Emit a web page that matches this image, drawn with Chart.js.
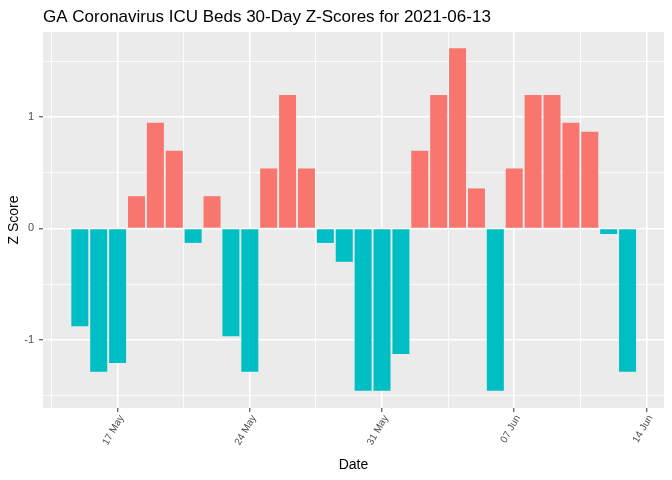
<!DOCTYPE html>
<html>
<head>
<meta charset="utf-8">
<script src="https://cdn.jsdelivr.net/npm/chart.js@4"></script>
<style>
  html, body { margin: 0; padding: 0; background: #ffffff; }
  #wrap { width: 672px; height: 480px; }
</style>
</head>
<body>
<div id="wrap"><canvas id="zScoreChart"></canvas></div>
<script>
const dates = [
    '2021-05-15', '2021-05-16', '2021-05-17', '2021-05-18', '2021-05-19', '2021-05-20',
    '2021-05-21', '2021-05-22', '2021-05-23', '2021-05-24', '2021-05-25', '2021-05-26',
    '2021-05-27', '2021-05-28', '2021-05-29', '2021-05-30', '2021-05-31', '2021-06-01',
    '2021-06-02', '2021-06-03', '2021-06-04', '2021-06-05', '2021-06-06', '2021-06-07',
    '2021-06-08', '2021-06-09', '2021-06-10', '2021-06-11', '2021-06-12', '2021-06-13'
]
const zScores = [
    -0.88, -1.29, -1.21, 0.29, 0.95, 0.70,
    -0.13, 0.29, -0.97, -1.29, 0.54, 1.20,
    0.54, -0.13, -0.30, -1.46, -1.46, -1.13,
    0.70, 1.20, 1.62, 0.36, -1.46, 0.54,
    1.20, 1.20, 0.95, 0.87, -0.05, -1.29
]
const xTickDates = ['2021-05-17', '2021-05-24', '2021-05-31', '2021-06-07', '2021-06-14']
const yTicks = [-1, 0, 1]

const monthNames = ['Jan', 'Feb', 'Mar', 'Apr', 'May', 'Jun', 'Jul', 'Aug', 'Sep', 'Oct', 'Nov', 'Dec']
const dayMs = 86400000
const baseTime = Date.parse(xTickDates[0])
const toDay = d => (Date.parse(d) - baseTime) / dayMs
const majorX = xTickDates.map(toDay)

function dayLabel(v) {
    const d = new Date(baseTime + v * dayMs)
    return String(d.getUTCDate()).padStart(2, '0') + ' ' + monthNames[d.getUTCMonth()]
}

const points = dates.map((d, i) => ({x: toDay(d), y: zScores[i]}))
const barColors = zScores.map(v => v > 0 ? '#F8766D' : '#00BFC4')

// x ticks: majors plus minor lines halfway between
const xTickValues = []
xTickValues.push(majorX[0] - 3.5)
majorX.forEach((v, i) => {
    xTickValues.push(v)
    if (i < majorX.length - 1) xTickValues.push((v + majorX[i + 1]) / 2)
})
const yTickValues = [-1.5, -1, -0.5, 0, 0.5, 1, 1.5]

const isMajorX = v => majorX.includes(v)
const isMajorY = v => yTicks.includes(v)

const panelPlugin = {
    id: 'panel',
    beforeDraw(chart) {
        const {ctx, chartArea} = chart
        ctx.save()
        ctx.fillStyle = '#EBEBEB'
        ctx.fillRect(chartArea.left, chartArea.top, chartArea.right - chartArea.left, chartArea.bottom - chartArea.top)
        ctx.restore()
    },
    afterDraw(chart) {
        const ctx = chart.ctx
        ctx.save()
        ctx.fillStyle = '#000000'
        ctx.font = '17px "Liberation Sans", Arial, sans-serif'
        ctx.textBaseline = 'alphabetic'
        ctx.textAlign = 'left'
        ctx.fillText('GA Coronavirus ICU Beds 30-Day Z-Scores for 2021-06-13', 43, 22)
        ctx.restore()
    }
}

const xTickFont = {family: '"Liberation Sans", Arial, sans-serif', size: 10}
const yTickFont = {family: '"Liberation Sans", Arial, sans-serif', size: 11}
const titleFont = {family: '"Liberation Sans", Arial, sans-serif', size: 14}

new Chart(document.getElementById('zScoreChart').getContext('2d'), {
    type: 'bar',
    data: {
        datasets: [{
            data: points,
            backgroundColor: barColors,
            borderWidth: 0,
            categoryPercentage: 1,
            barPercentage: 0.9
        }]
    },
    options: {
        responsive: true,
        maintainAspectRatio: false,
        animation: false,
        layout: {padding: {top: 32, right: 8, left: 0, bottom: 0}},
        plugins: {
            legend: {display: false},
            tooltip: {enabled: false}
        },
        scales: {
            x: {
                type: 'linear',
                offset: false,
                min: majorX[0] - 3.95,
                max: majorX[majorX.length - 1] + 0.93,
                afterBuildTicks: scale => { scale.ticks = xTickValues.map(v => ({value: v})) },
                afterFit: scale => { scale.height = 72 },
                border: {display: false},
                grid: {
                    offset: false,
                    color: '#FFFFFF',
                    lineWidth: c => c.tick && isMajorX(c.tick.value) ? 1.6 : 0.8,
                    tickColor: c => c.tick && isMajorX(c.tick.value) ? '#333333' : 'rgba(0,0,0,0)',
                    tickLength: 4,
                    tickWidth: 1
                },
                ticks: {
                    autoSkip: false,
                    minRotation: 60,
                    maxRotation: 60,
                    padding: 1,
                    labelOffset: 4,
                    color: '#4D4D4D',
                    font: xTickFont,
                    callback: v => isMajorX(v) ? dayLabel(v) : ''
                },
                title: {
                    display: true,
                    text: 'Date',
                    color: '#000000',
                    font: titleFont,
                    padding: {top: 0, bottom: 6}
                }
            },
            y: {
                min: -1.615,
                max: 1.767,
                afterBuildTicks: scale => { scale.ticks = yTickValues.map(v => ({value: v})) },
                afterFit: scale => { scale.width = 43 },
                border: {display: false},
                grid: {
                    color: '#FFFFFF',
                    lineWidth: c => c.tick && isMajorY(c.tick.value) ? 1.6 : 0.8,
                    tickColor: c => c.tick && isMajorY(c.tick.value) ? '#333333' : 'rgba(0,0,0,0)',
                    tickLength: 4,
                    tickWidth: 1
                },
                ticks: {
                    padding: 5,
                    color: '#4D4D4D',
                    font: yTickFont,
                    callback: v => isMajorY(v) ? String(v) : ''
                },
                title: {
                    display: true,
                    text: 'Z Score',
                    color: '#000000',
                    font: titleFont,
                    padding: {top: 6, bottom: 0}
                }
            }
        }
    },
    plugins: [panelPlugin]
})
</script>
</body>
</html>
